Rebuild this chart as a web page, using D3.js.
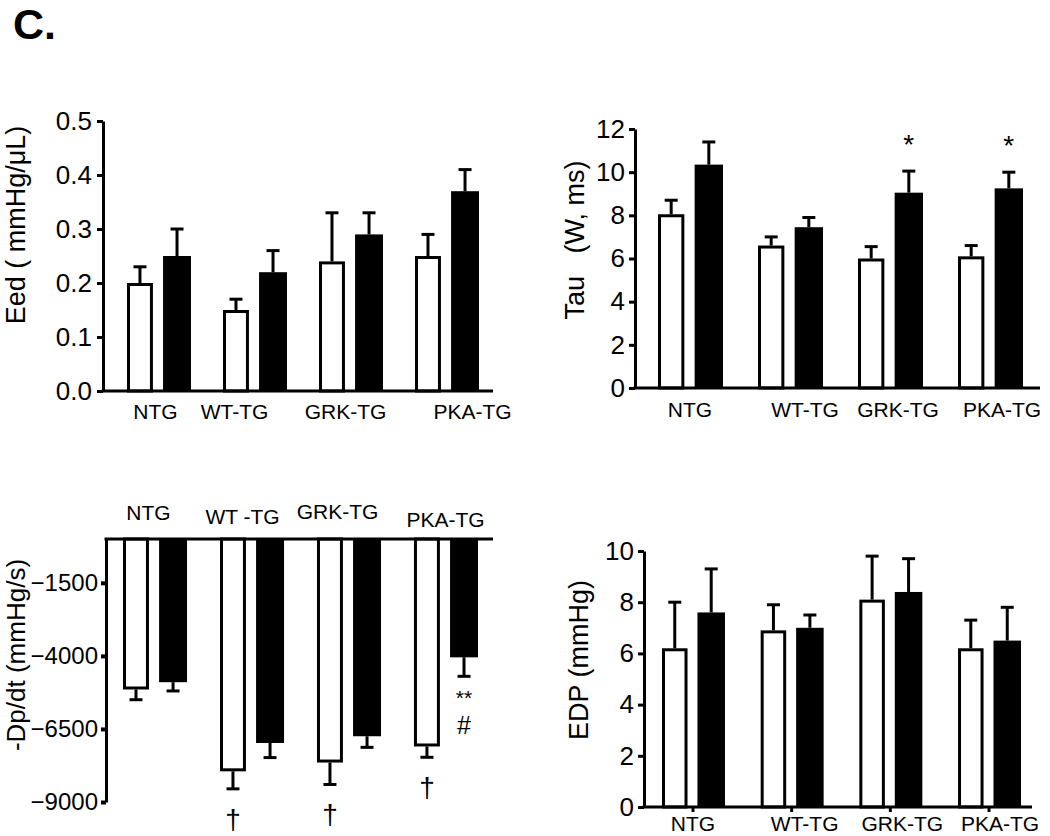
<!DOCTYPE html>
<html><head><meta charset="utf-8">
<script src="https://cdn.jsdelivr.net/npm/d3@7"></script>
<style>
body{margin:0;background:#fff}
svg{display:block}
text{font-family:"Liberation Sans",Arial,Helvetica,sans-serif;fill:#000}
</style>
</head><body>
<svg id="c" width="1050" height="836"></svg>
<script>
// ---------- data ----------
const categories = ["NTG", "WT-TG", "GRK-TG", "PKA-TG"];
const dpdtCategories = ["NTG", "WT -TG", "GRK-TG", "PKA-TG"];

const eedOpen = [0.20, 0.15, 0.24, 0.25];
const eedOpenErr = [0.03, 0.02, 0.09, 0.04];
const eedFilled = [0.25, 0.22, 0.29, 0.37];
const eedFilledErr = [0.05, 0.04, 0.04, 0.04];
const eedTicks = [0, 0.1, 0.2, 0.3, 0.4, 0.5];

const tauOpen = [8.05, 6.6, 6.0, 6.1];
const tauOpenErr = [0.65, 0.4, 0.55, 0.5];
const tauFilled = [10.35, 7.45, 9.05, 9.25];
const tauFilledErr = [1.05, 0.45, 1.0, 0.75];
const tauTicks = [0, 2, 4, 6, 8, 10, 12];
const tauFilledMarks = [[], [], ["*"], ["*"]];

const dpdtOpen = [-5150, -7950, -7650, -7100];
const dpdtOpenErr = [350, 600, 750, 370];
const dpdtFilled = [-4900, -6980, -6750, -4050];
const dpdtFilledErr = [300, 500, 380, 650];
const dpdtTicks = [-1500, -4000, -6500, -9000];
const dpdtOpenMarks = [[], ["†"], ["†"], ["†"]];
const dpdtFilledMarks = [[], [], [], ["**", "#"]];

const edpOpen = [6.2, 6.9, 8.1, 6.2];
const edpOpenErr = [1.8, 1.0, 1.7, 1.1];
const edpFilled = [7.6, 7.0, 8.4, 6.5];
const edpFilledErr = [1.7, 0.5, 1.3, 1.3];
const edpTicks = [0, 2, 4, 6, 8, 10];

// ---------- layout ----------
const panels = [
  { open: eedOpen, openErr: eedOpenErr, filled: eedFilled, filledErr: eedFilledErr,
    labels: categories, ticks: eedTicks, fmt: d3.format(".1f"),
    title: "Eed ( mmHg/\u03BCL)", domain: [0, 0.5], yRange: [391, 121],
    axisX: 103, axisEnd: 493, xRange: [127, 478], pad: 0.344,
    labelDx: [-3, -20, -5, 26], labelDy: [28, 28, 28, 28], xTick: 0,
    titleX: 25, titleY: 225, titleFont: 27, tickSize: 6, tickPad: 5, tickW: 3, tickFont: 26,
    openMarks: null, filledMarks: null },
  { open: tauOpen, openErr: tauOpenErr, filled: tauFilled, filledErr: tauFilledErr,
    labels: categories, ticks: tauTicks, fmt: d3.format("d"),
    title: "Tau   (W, ms)", domain: [0, 12], yRange: [388, 129],
    axisX: 635, axisEnd: 1040, xRange: [658, 1022], pad: 0.36,
    labelDx: [0, 15, 8, 12], labelDy: [29, 29, 29, 29], xTick: 0,
    titleX: 584, titleY: 240, titleFont: 27, tickSize: 6, tickPad: 4, tickW: 3, tickFont: 26,
    openMarks: null, filledMarks: tauFilledMarks },
  { open: dpdtOpen, openErr: dpdtOpenErr, filled: dpdtFilled, filledErr: dpdtFilledErr,
    labels: dpdtCategories, ticks: dpdtTicks, fmt: d3.format("d"),
    title: "-Dp/dt (mmHg/s)", domain: [0, -9000], yRange: [539, 802],
    axisX: 106, axisEnd: 493, xRange: [123, 477], pad: 0.35,
    labelDx: [-6, -9, -11, 0], labelDy: [-19, -15, -20, -12], xTick: 0,
    titleX: 25, titleY: 655, titleFont: 26, tickSize: 5, tickPad: 3, tickW: 4, tickFont: 24,
    openMarks: dpdtOpenMarks, filledMarks: dpdtFilledMarks },
  { open: edpOpen, openErr: edpOpenErr, filled: edpFilled, filledErr: edpFilledErr,
    labels: categories, ticks: edpTicks, fmt: d3.format("d"),
    title: "EDP (mmHg)", domain: [0, 10], yRange: [807, 551],
    axisX: 644, axisEnd: 1032, xRange: [662, 1020], pad: 0.372,
    labelDx: [0, 13, 12, 11], labelDy: [24, 24, 24, 24], xTick: 5,
    titleX: 588, titleY: 660, titleFont: 27, tickSize: 6, tickPad: 4, tickW: 3, tickFont: 26,
    openMarks: null, filledMarks: null }
];

const svg = d3.select("#c");
svg.append("text").attr("x", 13).attr("y", 39)
  .style("font-weight", "bold").style("font-size", "43px").text("C.");

const LW = 3, CAP = 13;
const FONT = '"Liberation Sans",Arial,sans-serif';

panels.forEach(cfg => {
  const g = svg.append("g");
  const x = d3.scaleBand().domain(d3.range(cfg.labels.length)).range(cfg.xRange).paddingInner(cfg.pad);
  const sub = d3.scaleBand().domain(["open", "filled"]).range([0, x.bandwidth()]).paddingInner(0.3);
  const y = d3.scaleLinear().domain(cfg.domain).range(cfg.yRange);
  const y0 = y(0);

  const series = [
    { key: "open", vals: cfg.open, errs: cfg.openErr, marks: cfg.openMarks },
    { key: "filled", vals: cfg.filled, errs: cfg.filledErr, marks: cfg.filledMarks }
  ];
  series.forEach(s => {
    const isOpen = s.key === "open";
    const bw = sub.bandwidth() + (isOpen ? 0 : 2);
    const bx = i => x(i) + sub(s.key) - (isOpen ? 0 : 1);
    const ins = isOpen ? LW / 2 : 0;
    g.selectAll(null).data(s.vals).join("rect")
      .attr("x", (d, i) => bx(i) + ins)
      .attr("width", bw - 2 * ins)
      .attr("y", d => Math.min(y0, y(d)) + (d >= 0 ? ins : 0))
      .attr("height", d => Math.abs(y(d) - y0) - ins)
      .attr("fill", isOpen ? "#fff" : "#000")
      .attr("stroke", isOpen ? "#000" : "none")
      .attr("stroke-width", LW);
    const end = (d, i) => d + Math.sign(d) * s.errs[i];
    const cx = i => bx(i) + bw / 2;
    g.selectAll(null).data(s.vals).join("line")
      .attr("x1", (d, i) => cx(i)).attr("x2", (d, i) => cx(i))
      .attr("y1", d => y(d)).attr("y2", (d, i) => y(end(d, i)))
      .attr("stroke", "#000").attr("stroke-width", LW);
    g.selectAll(null).data(s.vals).join("line")
      .attr("x1", (d, i) => cx(i) - CAP / 2).attr("x2", (d, i) => cx(i) + CAP / 2)
      .attr("y1", (d, i) => y(end(d, i))).attr("y2", (d, i) => y(end(d, i)))
      .attr("stroke", "#000").attr("stroke-width", LW);
    if (s.marks) {
      s.marks.forEach((mk, i) => {
        const ey = y(end(s.vals[i], i));
        mk.forEach(t => {
          let by, fs;
          if (t === "†") { by = ey + 40; fs = 28; }
          else if (t === "**") { by = ey + 29; fs = 21; }
          else if (t === "#") { by = ey + 58; fs = 25; }
          else { by = ey - 17; fs = 28; }
          g.append("text").attr("x", cx(i)).attr("y", by)
            .attr("text-anchor", "middle").style("font-size", fs + "px").text(t);
        });
      });
    }
  });

  // y axis
  const ya = g.append("g").attr("transform", `translate(${cfg.axisX},0)`)
    .call(d3.axisLeft(y).tickValues(cfg.ticks).tickFormat(cfg.fmt)
      .tickSize(cfg.tickSize).tickSizeOuter(0).tickPadding(cfg.tickPad));
  ya.select(".domain").attr("stroke", "#000").attr("stroke-width", LW);
  ya.selectAll(".tick line").attr("stroke", "#000").attr("stroke-width", cfg.tickW);
  ya.selectAll(".tick text").style("font-size", cfg.tickFont + "px").attr("fill", "#000")
    .style("font-family", FONT);

  // x axis line
  g.append("line").attr("x1", cfg.axisX - LW / 2).attr("x2", cfg.axisEnd)
    .attr("y1", y0).attr("y2", y0).attr("stroke", "#000").attr("stroke-width", LW);

  // category ticks and labels
  const xa = g.append("g").attr("transform", `translate(0,${y0})`)
    .call(d3.axisBottom(x).tickSize(cfg.xTick).tickSizeOuter(0).tickFormat(i => cfg.labels[i]));
  xa.select(".domain").remove();
  xa.selectAll(".tick line").attr("stroke", "#000").attr("stroke-width", LW);
  xa.selectAll(".tick text")
    .attr("dy", null)
    .attr("x", (d, i) => cfg.labelDx[i])
    .attr("y", (d, i) => cfg.labelDy[i])
    .style("font-size", "21px").attr("fill", "#000")
    .style("font-family", FONT);

  // title
  g.append("text")
    .attr("transform", `translate(${cfg.titleX},${cfg.titleY}) rotate(-90)`)
    .attr("text-anchor", "middle")
    .style("font-size", cfg.titleFont + "px").style("white-space", "pre")
    .text(cfg.title);
});
</script>
</body></html>
